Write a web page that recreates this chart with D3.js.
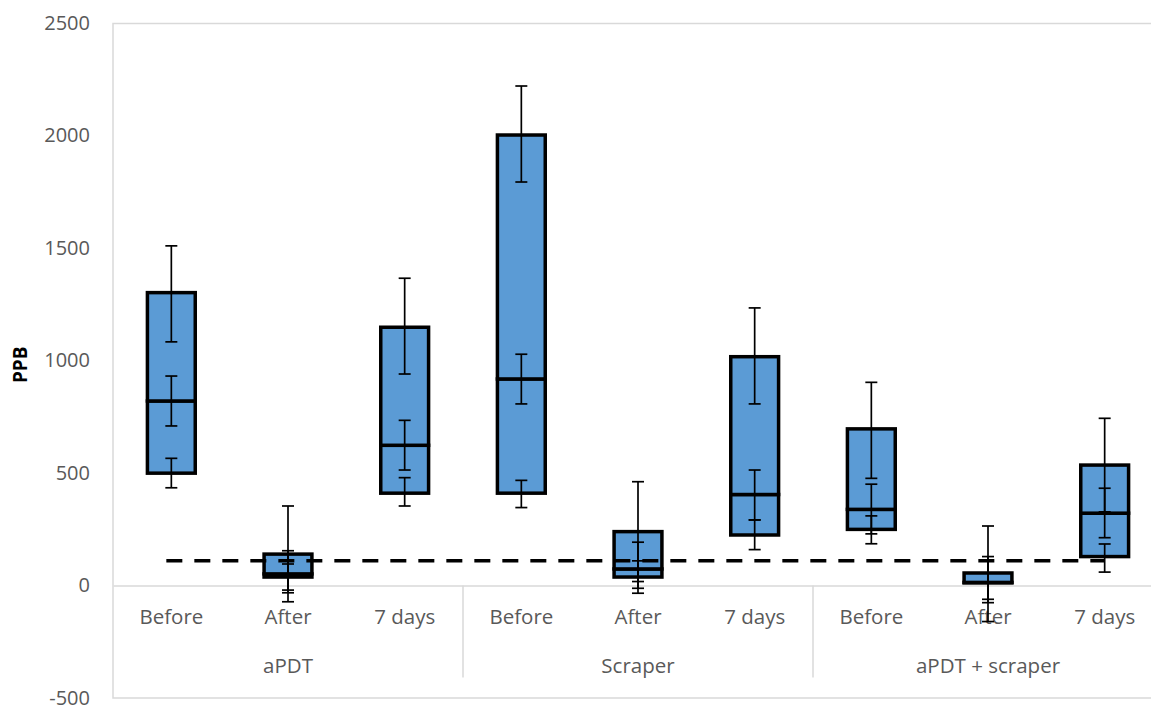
<!DOCTYPE html>
<html>
<head>
<meta charset="utf-8">
<script src="https://cdn.jsdelivr.net/npm/d3@7"></script>
<style>
  body { margin: 0; background: #fff; }
  svg { display: block; }
  .tick text { font-family: 'Open Sans', sans-serif; fill: #595959; }
</style>
</head>
<body>
<div id="chart"></div>
<script>
const groups = ['aPDT', 'Scraper', 'aPDT + scraper'];
const phases = ['Before', 'After', '7 days'];

// box values per category (group x phase, in order)
const q1 = [500, 38, 411, 411, 38, 225, 250, 12, 129];
const median = [821, 52, 624, 919, 74, 405, 339, 14, 322];
const q3 = [1303, 140, 1149, 2004, 240, 1018, 697, 56, 536];

// error bar ends [low, high] at each stacked level
const errQ1 = [[435, 566], [-20, 96], [354, 480], [347, 468], [-12, 110], [160, 292], [186, 310], [-61, 114], [60, 185]];
const errMedian = [[710, 932], [-32, 155], [514, 735], [808, 1029], [-34, 193], [292, 514], [230, 451], [-76, 129], [213, 433]];
const errQ3 = [[1084, 1511], [-72, 354], [941, 1367], [1795, 2222], [18, 462], [808, 1235], [477, 904], [-160, 265], [328, 744]];

const threshold = 110;
const yTicks = [-500, 0, 500, 1000, 1500, 2000, 2500];

const width = 1151;
const height = 709;
const plot = { left: 113, right: 1163, top: 23.5, bottom: 698 };

const categories = groups.flatMap(g => phases.map(p => `${g}|${p}`));
const data = categories.map((key, i) => ({
  key,
  q1: q1[i],
  median: median[i],
  q3: q3[i],
  errs: [errQ1[i], errMedian[i], errQ3[i]],
}));

const svg = d3.select('#chart')
  .append('svg')
  .attr('width', width)
  .attr('height', height);

const x = d3.scaleBand()
  .domain(categories)
  .range([plot.left, plot.right]);

const xGroup = d3.scaleBand()
  .domain(groups)
  .range([plot.left, plot.right]);

const y = d3.scaleLinear()
  .domain([-500, 2500])
  .range([plot.bottom, plot.top]);

const boxWidth = x.bandwidth() * 0.41;
const capWidth = 12;
const cx = d => x(d.key) + x.bandwidth() / 2;

// plot area border
svg.append('rect')
  .attr('x', plot.left)
  .attr('y', plot.top)
  .attr('width', plot.right - plot.left)
  .attr('height', plot.bottom - plot.top)
  .attr('fill', 'none')
  .attr('stroke', '#d9d9d9')
  .attr('stroke-width', 1.5);

// y axis labels
svg.append('g')
  .attr('transform', `translate(${plot.left}, 0)`)
  .call(d3.axisLeft(y).tickValues(yTicks).tickSize(0).tickPadding(23).tickFormat(d => String(d)))
  .call(g => g.select('.domain').remove())
  .selectAll('text')
  .attr('font-size', 20)
  .attr('dy', '0.3em');

// category axis at zero
const xAxis = svg.append('g')
  .attr('transform', `translate(0, ${y(0)})`)
  .call(d3.axisBottom(x).tickSize(0).tickPadding(24).tickFormat(k => k.split('|')[1]));
xAxis.select('.domain')
  .attr('stroke', '#d9d9d9')
  .attr('stroke-width', 1.5);
xAxis.selectAll('text')
  .attr('font-size', 20.5);

// group separators and group labels
svg.selectAll('.group-sep')
  .data(groups.slice(1))
  .enter()
  .append('line')
  .attr('class', 'group-sep')
  .attr('x1', g => xGroup(g))
  .attr('x2', g => xGroup(g))
  .attr('y1', y(0))
  .attr('y2', y(0) + 92)
  .attr('stroke', '#d9d9d9')
  .attr('stroke-width', 1.5);

svg.selectAll('.group-label')
  .data(groups)
  .enter()
  .append('text')
  .attr('class', 'group-label')
  .attr('x', g => xGroup(g) + xGroup.bandwidth() / 2)
  .attr('y', y(0) + 87)
  .attr('text-anchor', 'middle')
  .attr('font-family', "'Open Sans', sans-serif")
  .attr('font-size', 20.5)
  .attr('fill', '#595959')
  .text(g => g);

// y axis title
svg.append('text')
  .attr('transform', `translate(27, ${(plot.top + plot.bottom) / 2 + 4}) rotate(-90)`)
  .attr('text-anchor', 'middle')
  .attr('font-family', "'Open Sans', sans-serif")
  .attr('font-weight', 'bold')
  .attr('font-size', 19)
  .attr('fill', '#000')
  .text('PPB');

// boxes: lower half and upper half
const boxes = svg.append('g');

boxes.selectAll('.box-lower')
  .data(data)
  .enter()
  .append('rect')
  .attr('class', 'box-lower')
  .attr('x', d => cx(d) - boxWidth / 2)
  .attr('y', d => y(d.median))
  .attr('width', boxWidth)
  .attr('height', d => y(d.q1) - y(d.median))
  .attr('fill', '#5b9bd5')
  .attr('stroke', '#000')
  .attr('stroke-width', 3.5);

boxes.selectAll('.box-upper')
  .data(data)
  .enter()
  .append('rect')
  .attr('class', 'box-upper')
  .attr('x', d => cx(d) - boxWidth / 2)
  .attr('y', d => y(d.q3))
  .attr('width', boxWidth)
  .attr('height', d => y(d.median) - y(d.q3))
  .attr('fill', '#5b9bd5')
  .attr('stroke', '#000')
  .attr('stroke-width', 3.5);

// error bars
const bars = data.flatMap(d => d.errs.map(e => ({ x: cx(d), lo: e[0], hi: e[1] })));

const err = svg.append('g')
  .attr('stroke', '#000')
  .attr('stroke-width', 1.7);

err.selectAll('.err-line')
  .data(bars)
  .enter()
  .append('line')
  .attr('x1', d => d.x)
  .attr('x2', d => d.x)
  .attr('y1', d => y(d.lo))
  .attr('y2', d => y(d.hi));

err.selectAll('.err-cap')
  .data(bars.flatMap(d => [{ x: d.x, v: d.lo }, { x: d.x, v: d.hi }]))
  .enter()
  .append('line')
  .attr('x1', d => d.x - capWidth / 2)
  .attr('x2', d => d.x + capWidth / 2)
  .attr('y1', d => y(d.v))
  .attr('y2', d => y(d.v));

// threshold line
svg.append('line')
  .attr('x1', cx(data[0]) - 5)
  .attr('x2', cx(data[data.length - 1]))
  .attr('y1', y(threshold))
  .attr('y2', y(threshold))
  .attr('stroke', '#000')
  .attr('stroke-width', 3.5)
  .attr('stroke-dasharray', '16,12');
</script>
</body>
</html>
